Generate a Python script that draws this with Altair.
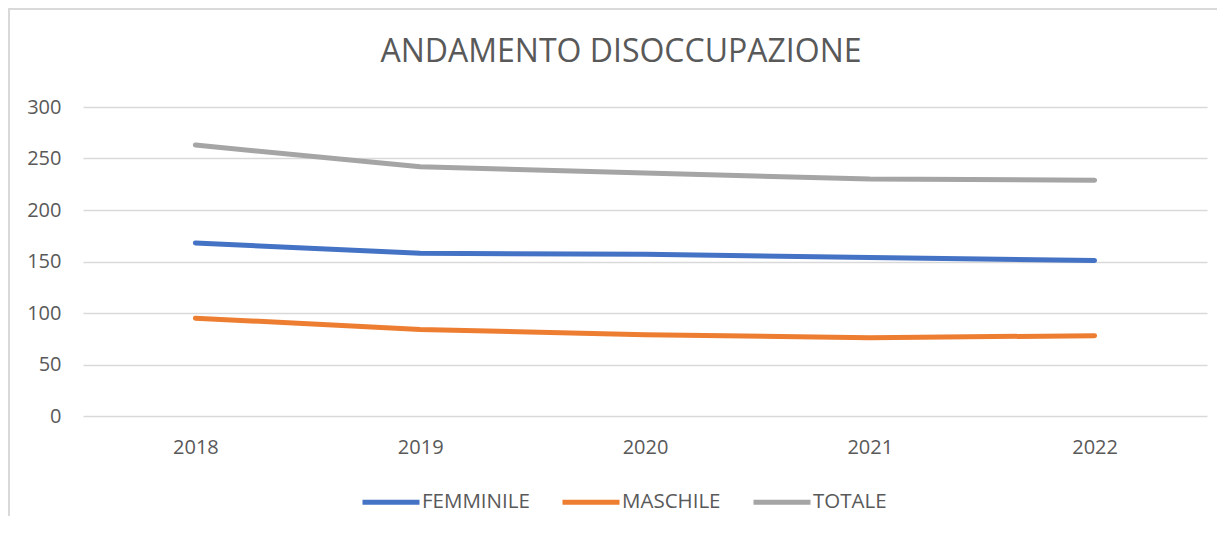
import altair as alt
import pandas as pd

anni = ["2018", "2019", "2020", "2021", "2022"]
femminile = [168, 158, 157, 154, 151]
maschile = [95, 84, 79, 76, 78]
totale = [263, 242, 236, 230, 229]
serie = ["FEMMINILE", "MASCHILE", "TOTALE"]
colori = ["#4472C4", "#ED7D31", "#A5A5A5"]
y_ticks = [0, 50, 100, 150, 200, 250, 300]
titolo = "ANDAMENTO DISOCCUPAZIONE"

rows = []
for nome, valori in zip(serie, [femminile, maschile, totale]):
    for a, v in zip(anni, valori):
        rows.append({"Anno": a, "Serie": nome, "Valore": v})
df = pd.DataFrame(rows)

FONT = "Open Sans"
GREY = "#595959"
GRID = "#D9D9D9"

lines = alt.Chart(df).mark_line(
    strokeWidth=5, strokeCap="round", strokeJoin="round"
).encode(
    x=alt.X(
        "Anno:O",
        sort=anni,
        scale=alt.Scale(type="point", padding=0.5),
        axis=alt.Axis(
            title=None, labelAngle=0, ticks=False, domain=False, grid=False,
            labelPadding=21, labelFontSize=20, labelColor=GREY, labelFont=FONT,
        ),
    ),
    y=alt.Y(
        "Valore:Q",
        scale=alt.Scale(domain=[0, 300], nice=False),
        axis=alt.Axis(
            title=None, values=y_ticks, ticks=False, domain=False,
            gridColor=GRID, gridWidth=1.5, labelPadding=22,
            labelFontSize=20, labelColor=GREY, labelFont=FONT,
        ),
    ),
    color=alt.Color(
        "Serie:N",
        scale=alt.Scale(domain=serie, range=colori),
        legend=alt.Legend(
            title=None, orient="none", legendX=277, legendY=364,
            direction="horizontal", symbolType="stroke", symbolSize=3249,
            symbolStrokeWidth=5, labelFontSize=20.5, labelFont=FONT,
            labelColor=GREY, labelOffset=0, columnPadding=22,
        ),
    ),
)

one = pd.DataFrame({"k": [0]})
top_border = alt.Chart(one).mark_rule(color=GRID, strokeWidth=2).encode(
    x=alt.value(-75), x2=alt.value(1140), y=alt.value(-98)
)
left_border = alt.Chart(one).mark_rule(color=GRID, strokeWidth=2).encode(
    x=alt.value(-74), y=alt.value(-98), y2=alt.value(420)
)

chart = alt.layer(top_border, left_border, lines).properties(
    width=1124,
    height=309,
    autosize=alt.AutoSizeParams(type="none"),
    padding={"left": 75, "top": 99, "right": 10, "bottom": 100},
    title=alt.TitleParams(
        titolo, anchor="middle", baseline="alphabetic", offset=-86, dx=-24,
        fontSize=32, font=FONT, fontWeight="normal", color=GREY,
    ),
    background="white",
).configure_view(stroke=None)

chart.save("out.html", embed_options={"renderer": "svg", "actions": False})
